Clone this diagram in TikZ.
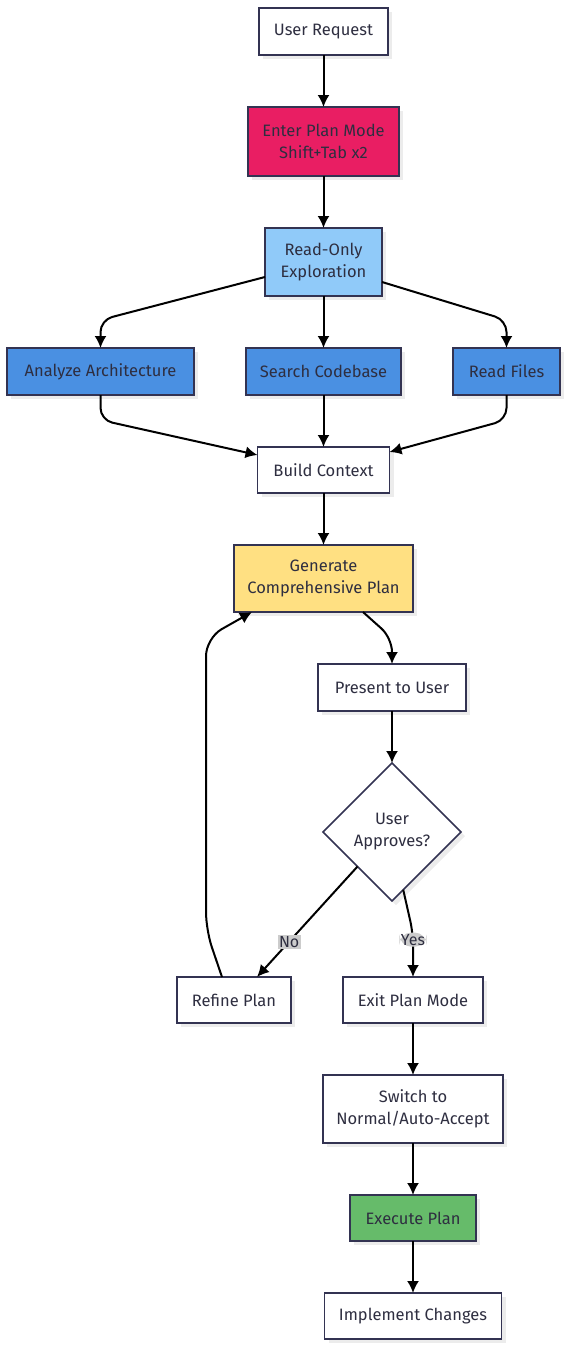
\documentclass[tikz,border=0pt]{standalone}
\usepackage{fontspec}
\setmainfont{Fira Sans}
\usepackage{tikz}
\usetikzlibrary{arrows.meta,positioning,shapes.geometric,shadows}
\usepackage{xcolor}
\definecolor{boxline}{HTML}{333352}
\definecolor{boxtext}{HTML}{2E2E40}
\definecolor{enterpink}{HTML}{E91E63}
\definecolor{readblue}{HTML}{90CAF9}
\definecolor{toolblue}{HTML}{4A90E2}
\definecolor{planyellow}{HTML}{FFE082}
\definecolor{execgreen}{HTML}{66BB6A}
\definecolor{lblgray}{HTML}{CCCCCC}
\begin{document}
\begin{tikzpicture}[x=1pt,y=-1pt,node distance=52pt,>={Latex[length=12pt,width=12pt]},
  box/.style={draw=boxline,line width=1.6pt,fill=white,text=boxtext,align=center,
    minimum height=47pt,inner sep=4pt,outer sep=0pt,
    font=\fontsize{16.5}{22}\selectfont,
    drop shadow={shadow xshift=4pt,shadow yshift=-4pt,fill=black!12,opacity=0.6}},
  decide/.style={box,diamond,aspect=1,minimum width=138pt,minimum height=138pt,inner sep=0pt},
  lbl/.style={fill=lblgray,text=boxtext,inner sep=1.5pt,font=\fontsize{16}{18}\selectfont},
  flow/.style={->,line width=2pt,black}]
\useasboundingbox (0,0) rectangle (569,1350);
\node[box,minimum width=129pt] (req) at (323.5,31.5) {User Request};
\node[box,fill=enterpink,minimum width=151pt,minimum height=69pt,below=of req] (enter) {Enter Plan Mode\\Shift+Tab x2};
\node[box,fill=readblue,minimum width=117pt,minimum height=68pt,below=of enter] (ro) {Read-Only\\Exploration};
\node[box,fill=toolblue,minimum width=155pt,below=of ro] (search) {Search Codebase};
\node[box,fill=toolblue,minimum width=187pt,left=of search] (arch) {Analyze Architecture};
\node[box,fill=toolblue,minimum width=107pt,right=of search] (files) {Read Files};
\node[box,minimum width=132pt,minimum height=46pt,below=of search] (build) {Build Context};
\node[box,fill=planyellow,minimum width=179pt,minimum height=67pt,below=of build] (gen) {Generate\\Comprehensive Plan};
\node[box,minimum width=148pt,below=of gen,xshift=68.5pt] (present) {Present to User};
\node[decide,below=of present] (approve) {User\\Approves?};
\node[box,minimum width=114pt,minimum height=46pt] (refine) at (234,1000) {Refine Plan};
\node[box,minimum width=140pt,minimum height=46pt] (exit) at (413,1000) {Exit Plan Mode};
\node[box,minimum width=180pt,minimum height=68pt,below=of exit] (switch) {Switch to\\Normal/Auto-Accept};
\node[box,fill=execgreen,minimum width=126pt,minimum height=46pt,below=of switch] (exec) {Execute Plan};
\node[box,minimum width=177pt,minimum height=46pt,below=of exec] (impl) {Implement Changes};
\draw[flow] (req) -- (enter);
\draw[flow] (enter) -- (ro);
\draw[flow] (ro) -- (search);
\draw[flow,rounded corners=12pt] ([yshift=-15pt]ro.west) -- ([yshift=28pt]arch.north) -- (arch.north);
\draw[flow,rounded corners=12pt] ([yshift=-20pt]ro.east) -- ([yshift=28pt]files.north) -- (files.north);
\draw[flow] (search) -- (build);
\draw[flow,rounded corners=12pt] (arch.south) -- ([yshift=-25pt]arch.south) -- ([yshift=15pt]build.west);
\draw[flow,rounded corners=12pt] (files.south) -- ([yshift=-25pt]files.south) -- ([yshift=18pt]build.east);
\draw[flow] (build) -- (gen);
\draw[flow,rounded corners=14pt] ([xshift=-50pt]gen.south east) -- ([yshift=26pt]present.north) -- (present.north);
\draw[flow] (present) -- (approve);
\draw[flow] (approve.south west) -- node[lbl,pos=0.68] {No} ([xshift=23pt]refine.north);
\draw[flow,rounded corners=12pt] (approve.-79) -- ([yshift=44pt]exit.north) -- node[lbl,pos=0.15] {Yes} (exit.north);
\draw[flow,rounded corners=18pt] ([xshift=-12pt]refine.north) -- ([shift={(29pt,47pt)}]refine.north west)
  -- ([shift={(-28pt,-26pt)}]gen.south west) -- ([xshift=18pt]gen.south west);
\draw[flow] (exit) -- (switch);
\draw[flow] (switch) -- (exec);
\draw[flow] (exec) -- (impl);
\end{tikzpicture}
\end{document}
